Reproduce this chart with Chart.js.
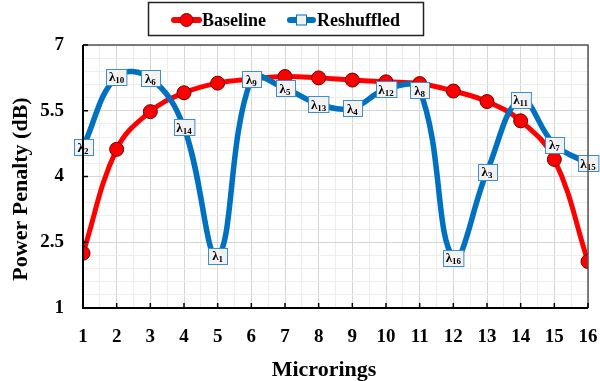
<!DOCTYPE html>
<html>
<head>
<meta charset="utf-8">
<script src="https://cdn.jsdelivr.net/npm/chart.js@4/dist/chart.umd.min.js"></script>
<style>
html,body{margin:0;padding:0;background:#fff;}
#wrap{width:600px;height:381px;position:relative;}
</style>
</head>
<body>
<div id="wrap"><canvas id="c" width="600" height="381"></canvas></div>
<script>
const microrings = [1,2,3,4,5,6,7,8,9,10,11,12,13,14,15,16];
const baseline = [2.25,4.62,5.48,5.91,6.13,6.22,6.28,6.25,6.2,6.16,6.12,5.95,5.71,5.27,4.39,2.06];
const reshuffled = [4.67,6.28,6.24,5.12,2.19,6.22,6.01,5.65,5.56,5.99,5.97,2.15,4.11,5.75,4.73,4.30];
const wavelengthLabels = ["2","10","6","14","1","9","5","13","4","12","8","16","3","11","7","15"];
const yTickLabels = ["1","2.5","4","5.5","7"];
const xTitle = "Microrings";
const yTitle = "Power Penalty (dB)";
const legendNames = ["Baseline","Reshuffled"];

const SERIF = "'Liberation Serif','Times New Roman',serif";
const RED = '#ff0000';
const BLUE = '#0070c0';

const basePts = microrings.map((m,i)=>({x:m,y:baseline[i]}));
const reshPts = microrings.map((m,i)=>({x:m,y:reshuffled[i]}));

function isMajorY(v){ const k=(v-1)/1.5; return Math.abs(k-Math.round(k))<1e-6; }
function isInt(v){ return Math.abs(v-Math.round(v))<1e-6; }

const decorPlugin = {
  id:'decor',
  afterDatasetsDraw(chart){
    const {ctx} = chart;
    const meta = chart.getDatasetMeta(1);
    ctx.save();
    meta.data.forEach((pt,i)=>{
      const lam='λ', sub=wavelengthLabels[i];
      ctx.font = 'bold 13px '+SERIF;
      const lw = ctx.measureText(lam).width;
      ctx.font = 'bold 9px '+SERIF;
      const sw = ctx.measureText(sub).width;
      const tw = lw + sw;
      const w = Math.max(19, tw+5), h = 16;
      const x0 = Math.round(pt.x - w/2)+0.5, y0 = Math.round(pt.y - h/2)+0.5;
      ctx.fillStyle = '#f2f2f2';
      ctx.fillRect(x0,y0,w,h);
      ctx.strokeStyle = '#3b8ed0';
      ctx.lineWidth = 1;
      ctx.strokeRect(x0,y0,w,h);
      ctx.fillStyle = '#000';
      ctx.textBaseline = 'alphabetic';
      ctx.textAlign = 'left';
      const tx = pt.x - tw/2;
      ctx.font = 'bold 13px '+SERIF;
      ctx.fillText(lam, tx, pt.y+4.5);
      ctx.font = 'bold 9px '+SERIF;
      ctx.fillText(sub, tx+lw, pt.y+6.5);
    });
    ctx.restore();
  },
  afterDraw(chart){
    const {ctx, chartArea:a, scales} = chart;
    ctx.save();
    ctx.strokeStyle = '#555';
    ctx.lineWidth = 1.5;
    ctx.beginPath();
    ctx.moveTo(a.left, a.top); ctx.lineTo(a.right, a.top); ctx.lineTo(a.right, a.bottom);
    ctx.stroke();
    ctx.strokeStyle = '#000';
    ctx.lineWidth = 2;
    ctx.beginPath();
    ctx.moveTo(a.left, a.top); ctx.lineTo(a.left, a.bottom); ctx.lineTo(a.right, a.bottom);
    ctx.stroke();
    ctx.lineWidth = 1.5;
    ctx.beginPath();
    microrings.forEach(m=>{
      const x = scales.x.getPixelForValue(m);
      ctx.moveTo(x, a.bottom); ctx.lineTo(x, a.bottom-5);
    });
    yTickLabels.forEach(t=>{
      const y = scales.y.getPixelForValue(parseFloat(t));
      ctx.moveTo(a.left, y); ctx.lineTo(a.left+5, y);
    });
    ctx.stroke();
    ctx.fillStyle = '#000';
    ctx.font = 'bold 22px '+SERIF;
    ctx.textAlign = 'center';
    ctx.textBaseline = 'alphabetic';
    ctx.fillText(xTitle, 324, 376);
    ctx.save();
    ctx.translate(27, 189);
    ctx.rotate(-Math.PI/2);
    ctx.fillText(yTitle, 0, 0);
    ctx.restore();
    // legend
    ctx.strokeStyle = '#222';
    ctx.lineWidth = 1.5;
    ctx.strokeRect(148.5, 2.5, 275, 33);
    const ly = 20;
    ctx.lineCap = 'round';
    ctx.strokeStyle = RED; ctx.lineWidth = 6;
    ctx.beginPath(); ctx.moveTo(174, ly); ctx.lineTo(199, ly); ctx.stroke();
    ctx.beginPath(); ctx.arc(186.5, ly, 6.5, 0, Math.PI*2);
    ctx.fillStyle = RED; ctx.fill();
    ctx.lineWidth = 1; ctx.strokeStyle = '#7a0000'; ctx.stroke();
    ctx.strokeStyle = BLUE; ctx.lineWidth = 6;
    ctx.beginPath(); ctx.moveTo(290, ly); ctx.lineTo(313, ly); ctx.stroke();
    ctx.fillStyle = '#f2f2f2';
    ctx.fillRect(296, ly-5.5, 11, 11);
    ctx.lineWidth = 1; ctx.strokeStyle = BLUE;
    ctx.strokeRect(296.5, ly-5, 10, 10);
    ctx.fillStyle = '#000';
    ctx.font = 'bold 18px '+SERIF;
    ctx.textAlign = 'left';
    ctx.textBaseline = 'middle';
    ctx.fillText(legendNames[0], 202, ly+1);
    ctx.fillText(legendNames[1], 317, ly+1);
    ctx.restore();
  }
};

new Chart(document.getElementById('c'), {
  type:'line',
  data:{
    datasets:[
      {label:legendNames[0]+' points', data:basePts, showLine:false, pointRadius:7, pointHoverRadius:7,
       pointBackgroundColor:RED, pointBorderColor:'#6a0000', pointBorderWidth:1, order:0},
      {label:legendNames[1], data:reshPts, borderColor:BLUE, borderWidth:5.5, tension:0.4, pointRadius:0,
       fill:false, order:1},
      {label:legendNames[0], data:basePts, borderColor:RED, borderWidth:5, tension:0.4, pointRadius:0,
       fill:false, order:2}
    ]
  },
  options:{
    responsive:false,
    animation:false,
    events:[],
    layout:{padding:{top:45,right:12,left:0,bottom:0}},
    plugins:{legend:{display:false}, tooltip:{enabled:false}},
    scales:{
      x:{type:'linear', min:1, max:16,
        afterFit(s){ s.height = 73; s.paddingRight = 0; s.paddingLeft = 0; },
        grid:{drawTicks:false, color:(c)=> isInt(c.tick.value) ? '#d6d6d6' : '#ececec', lineWidth:1},
        border:{display:false},
        ticks:{stepSize:0.5, autoSkip:false, maxRotation:0, padding:18, color:'#000',
          font:{family:SERIF, size:19, weight:'bold'},
          callback:(v)=> isInt(v) ? String(Math.round(v)) : ''}
      },
      y:{type:'linear', min:1, max:7,
        afterFit(s){ s.width = 83; s.paddingTop = 0; s.paddingBottom = 0; },
        grid:{drawTicks:false, color:(c)=> isMajorY(c.tick.value) ? '#d6d6d6' : '#ececec', lineWidth:1},
        border:{display:false},
        ticks:{stepSize:0.3, autoSkip:false, padding:19, color:'#000',
          font:{family:SERIF, size:19, weight:'bold'},
          callback:(v)=> { if(!isMajorY(v)) return ''; const r=Math.round(v*10)/10; const s=String(r); return yTickLabels.includes(s)?s:''; }}
      }
    }
  },
  plugins:[decorPlugin]
});
</script>
</body>
</html>
